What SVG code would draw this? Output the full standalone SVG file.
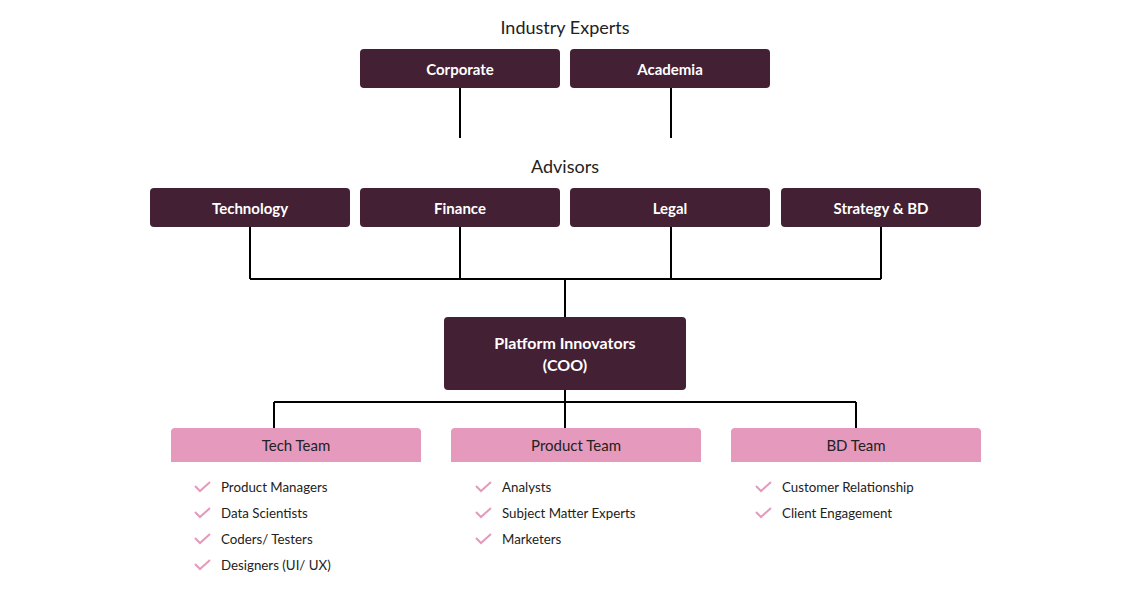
<svg xmlns="http://www.w3.org/2000/svg" width="1130" height="593" viewBox="0 0 1130 593">
<defs>
<style>
.dk{fill:#432033}
.pk{fill:#E599BC}
.bt{font-family:Lato,"Noto Sans","Liberation Sans",sans-serif;font-size:15px;font-weight:bold;fill:#ffffff;text-anchor:middle}
.tt{font-family:Lato,"Noto Sans","Liberation Sans",sans-serif;font-size:15px;fill:#222222;text-anchor:middle}
.hd{font-family:Lato,"Noto Sans","Liberation Sans",sans-serif;font-size:18px;fill:#222222;text-anchor:middle}
.li{font-family:Lato,"Noto Sans","Liberation Sans",sans-serif;font-size:13.3px;fill:#222222}
.ck{fill:none;stroke:#E599BC;stroke-width:2}
.cn{fill:none;stroke:#000000;stroke-width:2}
</style>
<path id="chk" d="M0,0 l5,5 l10,-9"/>
</defs>
<rect width="1130" height="593" fill="#ffffff"/>
<text class="hd" x="565" y="34">Industry Experts</text>
<text class="hd" x="565" y="173">Advisors</text>
<g id="connectors">
<path class="cn" d="M460,88 V138 M671,88 V138"/>
<path class="cn" d="M250,227 V279 M460,227 V279 M671,227 V279 M881,227 V279 M250,279 H881 M565,279 V317"/>
<path class="cn" d="M565,390 V428 M274,402 H856 M274,402 V428 M856,402 V428"/>
</g>
<g id="corporate"><rect class="dk" x="360" y="49" width="200" height="39" rx="4"/><text class="bt" x="460" y="75">Corporate</text></g>
<g id="academia"><rect class="dk" x="570" y="49" width="200" height="39" rx="4"/><text class="bt" x="670" y="75">Academia</text></g>
<g id="technology"><rect class="dk" x="150" y="188" width="200" height="39" rx="4"/><text class="bt" x="250" y="214">Technology</text></g>
<g id="finance"><rect class="dk" x="360" y="188" width="200" height="39" rx="4"/><text class="bt" x="460" y="214">Finance</text></g>
<g id="legal"><rect class="dk" x="570" y="188" width="200" height="39" rx="4"/><text class="bt" x="670" y="214">Legal</text></g>
<g id="strategy"><rect class="dk" x="781" y="188" width="200" height="39" rx="4"/><text class="bt" x="881" y="214">Strategy &amp; BD</text></g>
<g id="coo"><rect class="dk" x="444" y="317" width="242" height="73" rx="4"/><text class="bt" x="565" y="349" style="font-size:16px">Platform Innovators</text><text class="bt" x="565" y="371" style="font-size:16px">(COO)</text></g>
<g id="tech-team">
<path class="pk" d="M171,462 V432 a4,4 0 0 1 4,-4 H417 a4,4 0 0 1 4,4 V462 Z"/>
<text class="tt" x="296" y="451">Tech Team</text>
<use href="#chk" class="ck" x="195" y="486"/><text class="li" x="221" y="492">Product Managers</text>
<use href="#chk" class="ck" x="195" y="512"/><text class="li" x="221" y="518">Data Scientists</text>
<use href="#chk" class="ck" x="195" y="538"/><text class="li" x="221" y="544">Coders/ Testers</text>
<use href="#chk" class="ck" x="195" y="564"/><text class="li" x="221" y="570">Designers (UI/ UX)</text>
</g>
<g id="product-team">
<path class="pk" d="M451,462 V432 a4,4 0 0 1 4,-4 H697 a4,4 0 0 1 4,4 V462 Z"/>
<text class="tt" x="576" y="451">Product Team</text>
<use href="#chk" class="ck" x="476" y="486"/><text class="li" x="502" y="492">Analysts</text>
<use href="#chk" class="ck" x="476" y="512"/><text class="li" x="502" y="518">Subject Matter Experts</text>
<use href="#chk" class="ck" x="476" y="538"/><text class="li" x="502" y="544">Marketers</text>
</g>
<g id="bd-team">
<path class="pk" d="M731,462 V432 a4,4 0 0 1 4,-4 H977 a4,4 0 0 1 4,4 V462 Z"/>
<text class="tt" x="856" y="451">BD Team</text>
<use href="#chk" class="ck" x="756" y="486"/><text class="li" x="782" y="492">Customer Relationship</text>
<use href="#chk" class="ck" x="756" y="512"/><text class="li" x="782" y="518">Client Engagement</text>
</g>
</svg>
